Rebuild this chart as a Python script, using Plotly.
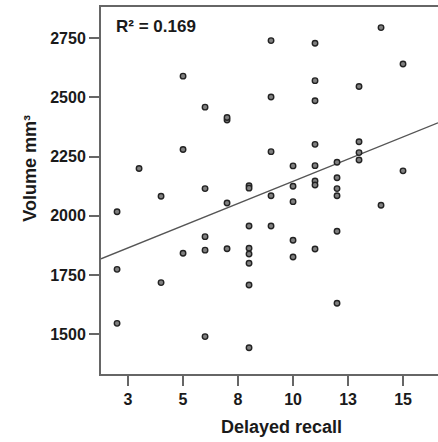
import numpy as np
import plotly.graph_objects as go

# Data (Delayed recall vs Volume mm3)
recall = [2, 2, 2,
          3,
          4, 4,
          5, 5, 5,
          6, 6, 6, 6, 6,
          7, 7, 7, 7,
          8, 8, 8, 8, 8, 8, 8, 8,
          9, 9, 9, 9, 9,
          10, 10, 10, 10, 10,
          11, 11, 11, 11, 11, 11, 11, 11,
          12, 12, 12, 12, 12, 12,
          13, 13, 13, 13,
          14, 14,
          15, 15]
volume = [2017, 1774, 1546,
          2200,
          2083, 1718,
          2590, 2280, 1842,
          2459, 2115, 1912, 1855, 1490,
          2405, 2415, 2054, 1861,
          2127, 2117, 1957, 1863, 1839, 1800, 1708, 1443,
          2740, 2502, 2271, 2085, 1957,
          2211, 2125, 2060, 1897, 1826,
          2729, 2571, 2486, 2302, 2212, 2147, 2130, 1860,
          2226, 2161, 2115, 2085, 1935, 1631,
          2546, 2313, 2267, 2236,
          2795, 2045,
          2641, 2190]

x_tickvals = [2.5, 5, 7.5, 10, 12.5, 15]
x_ticktext = ["3", "5", "8", "10", "13", "15"]
y_tickvals = [1500, 1750, 2000, 2250, 2500, 2750]
r2_label = "R² = 0.169"

# Fit line
fit_intercept = 1771.0
fit_slope = 37.5

x_range = [1.27, 16.59]
y_range = [1332, 2882]

line_x = np.array(x_range)
line_y = fit_intercept + fit_slope * line_x

FONT = "Liberation Sans, Arial, sans-serif"
AXIS_COLOR = "#666666"

fig = go.Figure()
fig.add_trace(go.Scatter(
    x=line_x, y=line_y, mode="lines",
    line=dict(color="#555555", width=1.3), hoverinfo="skip", showlegend=False))
fig.add_trace(go.Scatter(
    x=recall, y=volume, mode="markers",
    marker=dict(symbol="circle", size=5.5, color="#808080",
                line=dict(color="#222222", width=1.4)),
    showlegend=False))

fig.update_layout(
    width=438, height=442,
    margin=dict(l=101, r=0, t=7, b=68),
    paper_bgcolor="white", plot_bgcolor="white",
    font=dict(family=FONT, color="#1a1a1a"),
    xaxis=dict(range=x_range, tickvals=x_tickvals, ticktext=[f"<b>{t}</b>" for t in x_ticktext],
               showgrid=False, zeroline=False, showline=True, linecolor=AXIS_COLOR,
               linewidth=2, mirror=True, ticks="outside", ticklen=10, tickwidth=2,
               tickcolor=AXIS_COLOR, tickfont=dict(size=16, family=FONT, color="#1a1a1a")),
    yaxis=dict(range=y_range, tickvals=y_tickvals, ticktext=[f"<b>{v}</b>" for v in y_tickvals],
               showgrid=False, zeroline=False, showline=True, linecolor=AXIS_COLOR,
               linewidth=2, mirror=False, ticks="outside", ticklen=10, tickwidth=2,
               tickcolor=AXIS_COLOR, tickfont=dict(size=16, family=FONT, color="#1a1a1a")),
    annotations=[
        dict(text=f"<b>{r2_label}</b>", xref="paper", yref="paper", x=0.038, y=0.947,
             xanchor="left", yanchor="middle", showarrow=False,
             font=dict(size=17, family=FONT, color="#1a1a1a")),
        dict(text="<b>Delayed recall</b>", xref="paper", yref="paper", x=0.537, y=-0.145,
             xanchor="center", yanchor="middle", showarrow=False,
             font=dict(size=18, family=FONT, color="#1a1a1a")),
        dict(text="<b>Volume mm³</b>", xref="paper", yref="paper", x=-0.21, y=0.56,
             xanchor="center", yanchor="middle", textangle=-90, showarrow=False,
             font=dict(size=18, family=FONT, color="#1a1a1a")),
    ],
)

fig.write_html("out.html")
